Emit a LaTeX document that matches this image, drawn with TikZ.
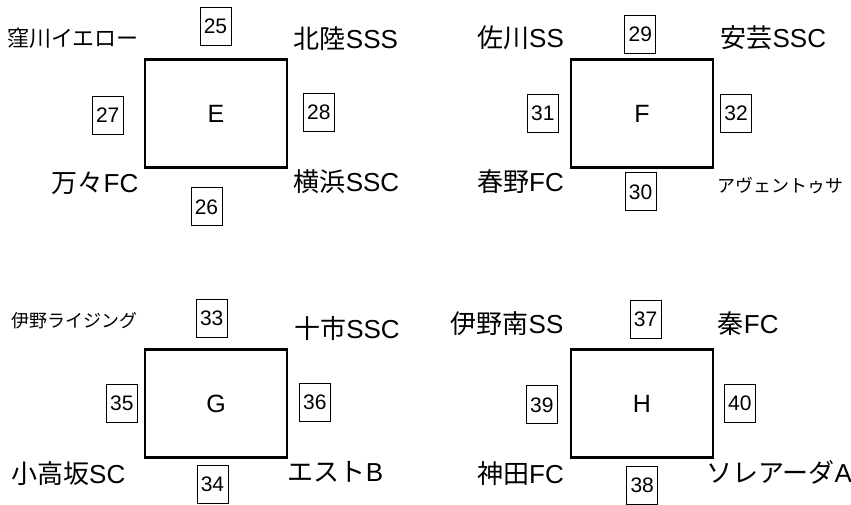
\documentclass[tikz,border=0pt]{standalone}
\usepackage{fontspec}
\setmainfont{Liberation Sans}
\newfontfamily\cjk{Noto Sans CJK JP}
\begin{document}
\begin{tikzpicture}[x=1pt,y=-1pt,
  court/.style={draw,line width=2.8pt,minimum width=142pt,minimum height=108pt,inner sep=0pt,font=\fontsize{25}{27}\selectfont},
  numbox/.style={draw,line width=0.9pt,minimum width=31pt,minimum height=38pt,inner sep=0pt,font=\fontsize{21}{23}\selectfont},
  team/.style={inner sep=0pt,text height=0.75em,text depth=0pt,font=\fontsize{26}{28}\selectfont},
  teammid/.style={team,font=\fontsize{22}{24}\selectfont},
  teamsmall/.style={team,font=\fontsize{18}{20}\selectfont}]
\useasboundingbox (0,0) rectangle (851,504);
% courts
\node[court] (E) at (216,113.5) {E};
\node[court] (F) at (642,113.7) {F};
\node[court] (G) at (216,403.7) {G};
\node[court] (H) at (642,403.7) {H};
% number boxes
\node[numbox] (n25) at (215.5,26.5) {25};
\node[numbox] (n27) at (107.7,115) {27};
\node[numbox] (n28) at (318.8,112) {28};
\node[numbox] (n26) at (206.5,206.8) {26};
\node[numbox] (n29) at (640.3,34.2) {29};
\node[numbox] (n31) at (542.8,113.2) {31};
\node[numbox] (n32) at (736,113.2) {32};
\node[numbox] (n30) at (640.5,191.8) {30};
\node[numbox] (n33) at (211.7,318.2) {33};
\node[numbox] (n35) at (121.8,403.3) {35};
\node[numbox] (n36) at (314.8,402.7) {36};
\node[numbox] (n34) at (212.5,484.5) {34};
\node[numbox] (n37) at (645.5,319.2) {37};
\node[numbox] (n39) at (541.8,404.8) {39};
\node[numbox] (n40) at (739.8,403.2) {40};
\node[numbox] (n38) at (642.2,485.3) {38};
% team names
\node[teammid] (t1) at (73,42.7) {\cjk 窪川イエロー};
\node[team] (t2) at (346,45) {{\cjk 北陸}SSS};
\node[team] (t3) at (95,189) {{\cjk 万々}FC};
\node[team] (t4) at (346.5,187.7) {{\cjk 横浜}SSC};
\node[team] (t5) at (520.5,43.3) {{\cjk 佐川}SS};
\node[team] (t6) at (773.3,43.3) {{\cjk 安芸}SSC};
\node[team] (t7) at (520.5,187.7) {{\cjk 春野}FC};
\node[teamsmall] (t8) at (780.8,188.3) {\cjk アヴェントゥサ};
\node[teamsmall] (t9) at (74.2,323.3) {\cjk 伊野ライジング};
\node[team] (t10) at (347,335) {{\cjk 十市}SSC};
\node[team] (t11) at (68.3,479.3) {{\cjk 小高坂}SC};
\node[team] (t12) at (335.5,477.7) {{\cjk エスト}B};
\node[team] (t13) at (507,329.3) {{\cjk 伊野南}SS};
\node[team] (t14) at (748.3,329.3) {{\cjk 秦}FC};
\node[team] (t15) at (520.5,479.3) {{\cjk 神田}FC};
\node[team] (t16) at (779,478.3) {{\cjk ソレアーダ}A};
\end{tikzpicture}
\end{document}
